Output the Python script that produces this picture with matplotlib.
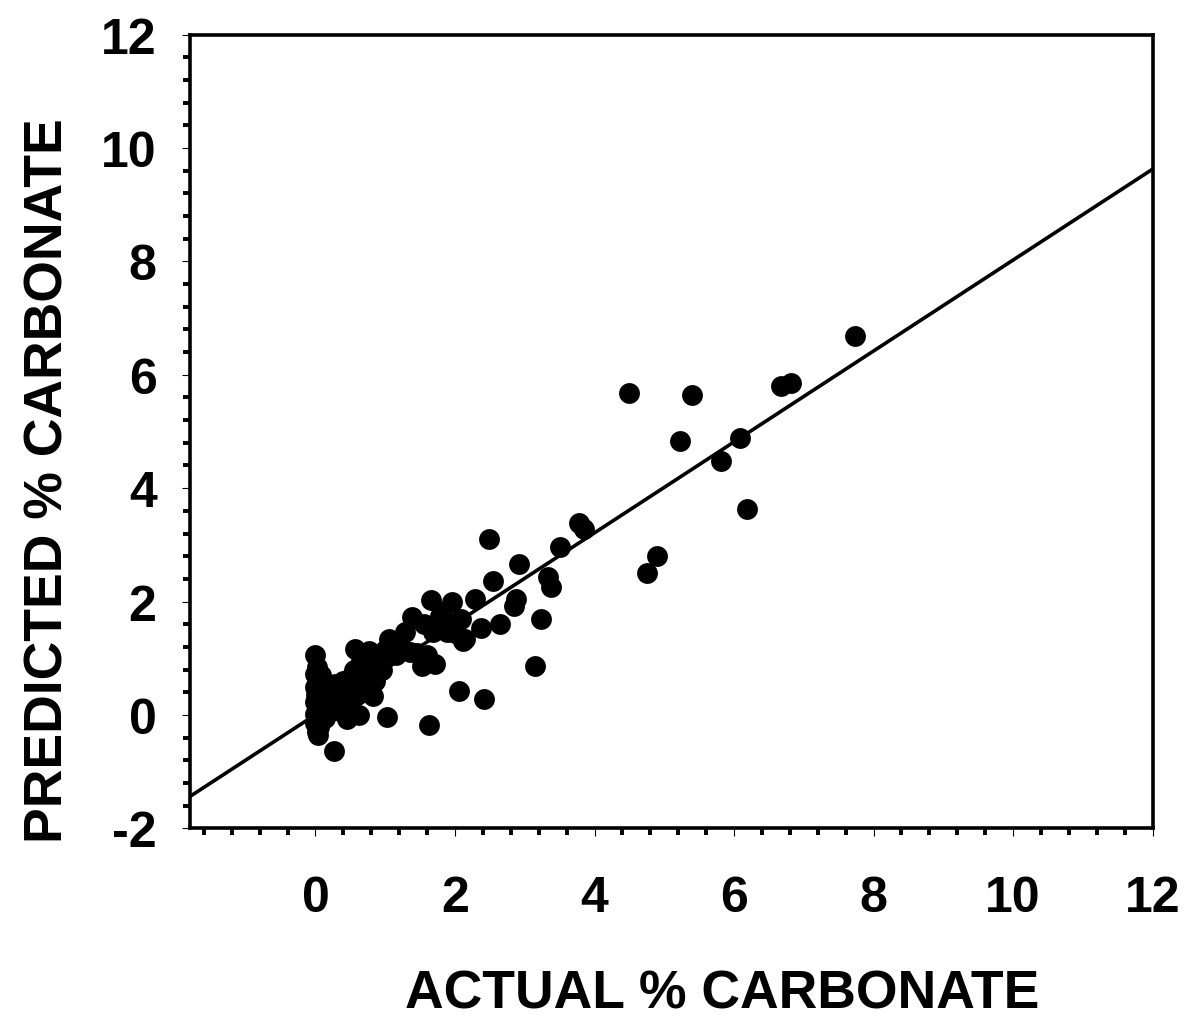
import matplotlib
matplotlib.use("Agg")
import matplotlib.pyplot as plt
import numpy as np
from matplotlib.ticker import MultipleLocator

plt.rcParams['font.family'] = ['Liberation Sans', 'DejaVu Sans']
plt.rcParams['font.weight'] = 'bold'
plt.rcParams['axes.unicode_minus'] = False

# actual vs predicted carbonate (%)
actual = [
    7.73, 6.81, 6.68, 6.09, 6.18, 5.82, 5.40, 5.23, 4.49, 4.90, 4.75,
    3.78, 3.85, 3.50, 3.33, 3.38, 3.23, 3.14, 2.92, 2.88, 2.84, 2.49,
    2.54, 2.65, 2.41, 2.37, 2.29, 2.06, 1.63, 0.27, 1.03,
    # middle cluster
    1.65, 1.96, 1.82, 1.78, 1.39, 2.09, 2.14, 2.11, 1.88, 1.68, 1.28,
    1.06, 1.35, 1.52, 1.71, 0.77, 0.56, 1.20, 1.15, 1.10, 1.00, 0.90,
    0.95, 0.85, 0.80, 0.75, 0.70, 0.65, 0.60, 0.55, 0.50, 0.72, 0.60,
    0.45, 0.82, 1.45, 1.60, 1.55, 1.95, 2.00, 0.40, 0.48, 0.66, 0.90,
    # low cluster
    0.53, 0.63, 0.45, 0.25, 0.30, 0.35, 0.28, 0.40, 0.38,
    # near-zero stripe
    0.00, 0.02, 0.00, 0.03, 0.00, 0.05, 0.01, 0.04, 0.00, 0.07, 0.02,
    0.05, 0.00, 0.08, 0.03, 0.00, 0.05, 0.02, 0.04, 0.10, 0.12, 0.15,
    0.10, 0.18, 0.20, 0.14, 0.08,
]
predicted = [
    6.69, 5.86, 5.80, 4.88, 3.63, 4.48, 5.64, 4.83, 5.68, 2.80, 2.50,
    3.38, 3.28, 2.96, 2.43, 2.25, 1.70, 0.86, 2.66, 2.04, 1.92, 3.10,
    2.36, 1.60, 0.28, 1.53, 2.04, 0.43, -0.18, -0.64, -0.04,
    2.02, 1.99, 1.81, 1.74, 1.72, 1.69, 1.34, 1.30, 1.46, 1.46, 1.46,
    1.34, 1.11, 0.86, 0.90, 1.12, 1.16, 1.25, 1.05, 1.20, 1.15, 1.00,
    0.80, 0.60, 0.85, 1.05, 0.70, 0.95, 0.55, 0.80, 0.65, 0.45, 0.35,
    0.50, 0.33, 1.10, 1.05, 1.60, 1.60, 1.45, 0.60, 0.30, 0.62, 0.75,
    0.00, 0.00, -0.07, 0.35, 0.15, 0.40, 0.55, 0.25, 0.05,
    1.05, 0.85, 0.72, 0.60, 0.50, 0.42, 0.35, 0.28, 0.22, 0.18, 0.12,
    0.06, 0.02, -0.02, -0.08, -0.15, -0.22, -0.30, -0.36, 0.30, 0.10,
    0.45, 0.55, 0.25, 0.05, -0.05, 0.70,
]

# fitted line
intercept = 0.004
slope = 0.802

xlim = (-1.8, 12)
ylim = (-2, 12)

fig = plt.figure(figsize=(11.87, 10.20), dpi=100)
ax = fig.add_axes([0.160, 0.187, 0.811, 0.778])

ax.scatter(actual, predicted, s=225, c='black', linewidths=0, zorder=3)
xl = np.array(xlim)
ax.plot(xl, intercept + slope * xl, color='black', lw=2.6, zorder=2)

ax.set_xlim(*xlim)
ax.set_ylim(*ylim)
ax.set_xticks([0, 2, 4, 6, 8, 10, 12])
ax.set_yticks([-2, 0, 2, 4, 6, 8, 10, 12])
ax.xaxis.set_minor_locator(MultipleLocator(0.4))
ax.yaxis.set_minor_locator(MultipleLocator(0.4))

for s in ax.spines.values():
    s.set_linewidth(2.6)

ax.tick_params(which='major', direction='out', length=6, width=0.8)
ax.tick_params(which='minor', direction='out', length=5, width=2.8)
ax.tick_params(axis='x', which='major', labelsize=36, pad=28)
ax.tick_params(axis='y', which='major', labelsize=36, pad=18)
for lab in ax.get_xticklabels() + ax.get_yticklabels():
    lab.set_fontweight('bold')

fig.text(0.608, 0.025, 'ACTUAL % CARBONATE', fontsize=38.5, fontweight='bold',
         ha='center', va='center')
fig.text(0.041, 0.529, 'PREDICTED % CARBONATE', fontsize=38.5, fontweight='bold',
         ha='center', va='center', rotation=90)

fig.savefig('out.png', dpi=100)
